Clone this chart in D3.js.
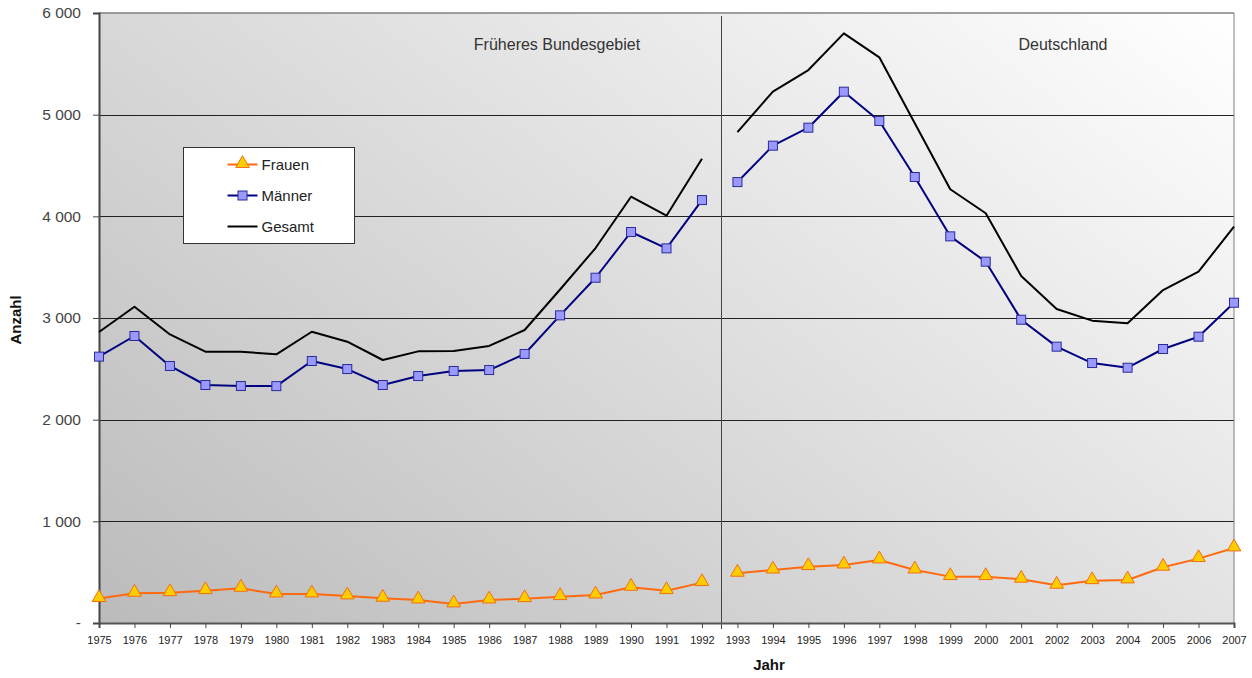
<!DOCTYPE html>
<html>
<head>
<meta charset="utf-8">
<script src="https://cdn.jsdelivr.net/npm/d3@7"></script>
<style>
  body { margin: 0; background: #fff; }
  text { font-family: Arial, "Liberation Sans", sans-serif; }
</style>
</head>
<body>
<div id="chart"></div>
<script>
// data
var years = d3.range(1975, 2008)
var frauen = [240, 292, 298, 318, 341, 285, 285, 266, 243, 226, 187, 226, 239, 259, 275, 351, 318, 397,
  489, 521, 554, 570, 620, 521, 456, 456, 430, 371, 416, 423, 548, 633, 738]
var maenner = [2620, 2823, 2528, 2341, 2331, 2330, 2577, 2498, 2341, 2429, 2479, 2488, 2646, 3026, 3396, 3846, 3685, 4160,
  4337, 4695, 4872, 5226, 4938, 4387, 3803, 3554, 2983, 2718, 2557, 2511, 2695, 2816, 3150]
var gesamt = [2862, 3111, 2838, 2669, 2669, 2643, 2865, 2767, 2587, 2672, 2675, 2725, 2882, 3280, 3688, 4193, 4006, 4567,
  4829, 5226, 5439, 5800, 5564, 4915, 4266, 4030, 3413, 3088, 2974, 2948, 3275, 3456, 3898]
var yTicks = [0, 1000, 2000, 3000, 4000, 5000, 6000]
var regions = ["Früheres Bundesgebiet", "Deutschland"]
var splitYear = 1993

var W = 1252, H = 678
var svg = d3.select('#chart')
  .append('svg')
  .attr("width", W)
  .attr("height", H)

// plot box (note: "top" is taken by window.top, so use p*)
var pLeft = 99, pRight = 1234, pTop = 13, pBottom = 623

var x = d3.scalePoint()
  .domain(years)
  .range([pLeft, pRight])
  .padding(0)

var y = d3.scaleLinear()
  .domain([0, 6000])
  .range([pBottom, pTop])

// background gradient, dark at bottom left, white at top right
var defs = svg.append("defs")
var grad = defs.append("linearGradient")
  .attr("id", "bg")
  .attr("gradientUnits", "userSpaceOnUse")
  .attr("x1", pLeft).attr("y1", pBottom)
  .attr("x2", pLeft + 694).attr("y2", pBottom - 937)
grad.append("stop").attr("offset", 0).attr("stop-color", "#bbbbbb")
grad.append("stop").attr("offset", 1).attr("stop-color", "#ffffff")

svg.append("rect")
  .attr("x", pLeft).attr("y", pTop)
  .attr("width", pRight - pLeft).attr("height", pBottom - pTop)
  .attr("fill", "url(#bg)")

// gridlines
svg.append("g")
  .selectAll("line")
  .data(yTicks.filter(function (d) { return d > 0 && d < 6000 }))
  .enter()
  .append("line")
  .attr("x1", pLeft).attr("x2", pRight)
  .attr("y1", function (d) { return Math.round(y(d)) + 0.5 })
  .attr("y2", function (d) { return Math.round(y(d)) + 0.5 })
  .attr("stroke", "#222")
  .attr("stroke-width", 1)

// frame top / right
svg.append("line")
  .attr("x1", pLeft).attr("x2", pRight).attr("y1", pTop).attr("y2", pTop)
  .attr("stroke", "#808080").attr("stroke-width", 1.5)
svg.append("line")
  .attr("x1", pRight).attr("x2", pRight).attr("y1", pTop).attr("y2", pBottom)
  .attr("stroke", "#808080").attr("stroke-width", 1)

// divider between the two periods
var splitX = Math.round((x(splitYear - 1) + x(splitYear)) / 2) + 1.5
svg.append("line")
  .attr("x1", splitX).attr("x2", splitX)
  .attr("y1", pTop + 3).attr("y2", pBottom + 6)
  .attr("stroke", "#444").attr("stroke-width", 1)

// region labels
svg.append("text")
  .attr("x", 557)
  .attr("y", 50)
  .attr("text-anchor", "middle")
  .attr("font-size", 16)
  .attr("fill", "#333")
  .text(regions[0])
svg.append("text")
  .attr("x", 1063)
  .attr("y", 50)
  .attr("text-anchor", "middle")
  .attr("font-size", 16)
  .attr("fill", "#333")
  .text(regions[1])

// axes
var fmt = d3.formatLocale({ decimal: ",", thousands: " ", grouping: [3], currency: ["", ""] }).format(",d")

var yAxis = d3.axisLeft(y)
  .tickValues(yTicks)
  .tickSize(6)
  .tickPadding(12)
  .tickFormat(function (d) { return d === 0 ? "-" : fmt(d) })
var gy = svg.append("g")
  .attr("transform", "translate(" + pLeft + ",0)")
  .call(yAxis)
gy.select(".domain").attr("stroke", "#444").attr("stroke-width", 2)
gy.selectAll(".tick line").attr("stroke", "#444")
gy.selectAll(".tick text")
  .attr("font-size", 15.5)
  .attr("fill", "#444")
  .attr("font-family", "Arial, 'Liberation Sans', sans-serif")

var xAxis = d3.axisBottom(x)
  .tickSize(5)
  .tickPadding(8)
var gx = svg.append("g")
  .attr("transform", "translate(0," + pBottom + ")")
  .call(xAxis)
gx.select(".domain").attr("stroke", "#555").attr("stroke-width", 2)
gx.selectAll(".tick line").attr("stroke", "#444")
gx.selectAll(".tick text")
  .attr("font-size", 11)
  .attr("fill", "#222")
  .attr("font-family", "Arial, 'Liberation Sans', sans-serif")

// axis titles
svg.append("text")
  .attr("transform", "translate(21," + ((pTop + pBottom) / 2 + 2) + ") rotate(-90)")
  .attr("text-anchor", "middle")
  .attr("font-size", 15)
  .attr("font-weight", "bold")
  .attr("fill", "#111")
  .text("Anzahl")
svg.append("text")
  .attr("x", 769)
  .attr("y", 670)
  .attr("text-anchor", "middle")
  .attr("font-size", 15)
  .attr("font-weight", "bold")
  .attr("fill", "#111")
  .text("Jahr")

// series
var series = [
  { name: "Frauen", values: frauen, line: "#ff6a10", marker: "triangle" },
  { name: "Männer", values: maenner, line: "#000080", marker: "square" },
  { name: "Gesamt", values: gesamt, line: "#000000", marker: null }
]

var line = d3.line()
  .x(function (d) { return x(d.year) })
  .y(function (d) { return y(d.value) })

var triangle = d3.symbol().type(d3.symbolTriangle).size(80)

function drawMarker(sel, kind) {
  if (kind === "square") {
    sel.append("rect")
      .attr("x", -4.5).attr("y", -4.5)
      .attr("width", 9).attr("height", 9)
      .attr("fill", "#9999ff")
      .attr("stroke", "#2a2a9a")
      .attr("stroke-width", 1)
  } else if (kind === "triangle") {
    sel.append("path")
      .attr("d", triangle)
      .attr("transform", "translate(0,-1)")
      .attr("fill", "#ffcc00")
      .attr("stroke", "#f07010")
      .attr("stroke-width", 1)
  }
}

// draw Gesamt first, then Männer, then Frauen
series.slice().reverse().forEach(function (s) {
  var pts = years.map(function (yr, i) { return { year: yr, value: s.values[i] } })
  var parts = [
    pts.filter(function (d) { return d.year < splitYear }),
    pts.filter(function (d) { return d.year >= splitYear })
  ]
  var g = svg.append("g")
  parts.forEach(function (p) {
    g.append("path")
      .attr("d", line(p))
      .attr("fill", "none")
      .attr("stroke", s.line)
      .attr("stroke-width", 2)
      .attr("stroke-linejoin", "round")
  })
  if (s.marker) {
    g.selectAll("g.m")
      .data(pts)
      .enter()
      .append("g")
      .attr("class", "m")
      .attr("transform", function (d) { return "translate(" + x(d.year) + "," + y(d.value) + ")" })
      .each(function () { drawMarker(d3.select(this), s.marker) })
  }
})

// legend
var lg = svg.append("g").attr("transform", "translate(183.5,147.5)")
lg.append("rect")
  .attr("width", 171).attr("height", 96)
  .attr("fill", "#fff")
  .attr("stroke", "#333")
  .attr("stroke-width", 1)
series.forEach(function (s, i) {
  var row = lg.append("g").attr("transform", "translate(0," + (17 + i * 31) + ")")
  row.append("line")
    .attr("x1", 44).attr("x2", 74)
    .attr("stroke", s.line)
    .attr("stroke-width", 2)
  var m = row.append("g").attr("transform", "translate(59,0)")
  drawMarker(m, s.marker)
  row.append("text")
    .attr("x", 78)
    .attr("y", 5)
    .attr("font-size", 15)
    .attr("fill", "#222")
    .text(s.name)
})
</script>
</body>
</html>
